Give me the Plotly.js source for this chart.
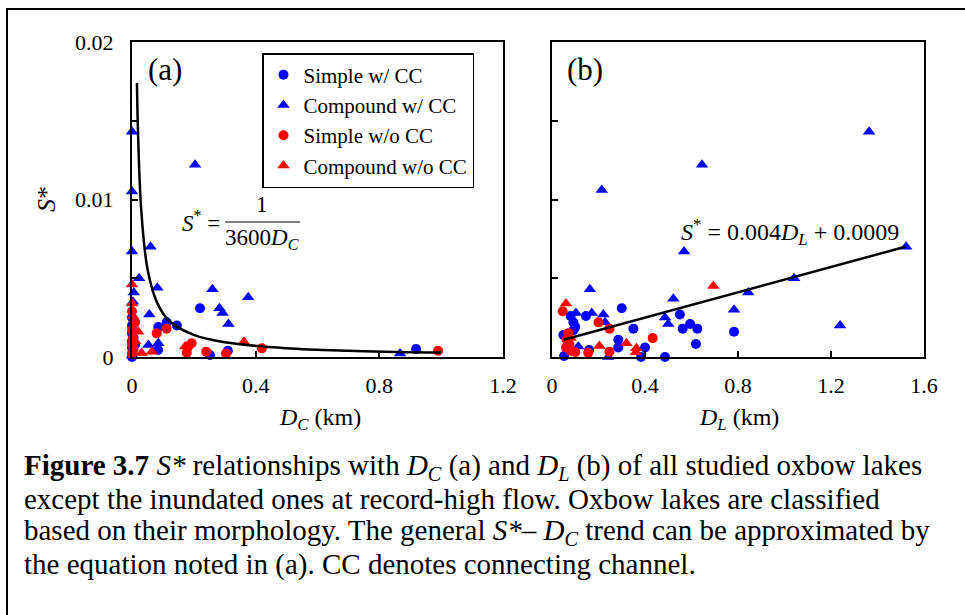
<!DOCTYPE html>
<html>
<head>
<meta charset="utf-8">
<script src="https://cdn.plot.ly/plotly-3.0.1.min.js"></script>
<style>html,body{margin:0;padding:0;background:#fff;}#chart{width:965px;height:615px;}</style>
</head>
<body>
<div id="chart"></div>
<script>
// ---------- Panel (a): S* vs D_C ----------
const aSimpleCC_x   = [0,0,0,0,0,0,0,0.005,0.01,0.22,0.145,0.085,0.112,0.084,0.252,0.31,0.919];
const aSimpleCC_y   = [0.0025,0.002,0.0015,0.001,0.0006,0.0002,0.0,0.0012,0.0008,0.0031,0.0020,0.0019,0.0022,0.00044,0.00013,0.0004,0.0005];
const aCompoundCC_x = [0,0.204,0,0,0.06,0.023,0.006,0.082,0.26,0.376,0.056,0.283,0.293,0.312,0.053,0.085,0.867,0.003,0.0];
const aCompoundCC_y = [0.0143,0.0122,0.0105,0.0067,0.0070,0.0050,0.0041,0.0044,0.0043,0.0038,0.0027,0.0031,0.0028,0.0021,0.00076,0.00087,0.00023,0.0035,0.0001];
const aSimpleNo_x   = [0,0.01,0.08,0.112,0.193,0.182,0.177,0.24,0.304,0.42,0.99,0.0,0.003,0.0,0.005,0.0];
const aSimpleNo_y   = [0.0029,0.0022,0.0015,0.0018,0.00087,0.00066,0.00027,0.00034,0.00023,0.00055,0.0004,0.0017,0.0012,0.0008,0.0005,0.0002];
const aCompoundNo_x = [0,0,0.02,0.031,0.064,0.362,0.172,0.003,0.01];
const aCompoundNo_y = [0.0046,0.0034,0.0016,0.00025,0.00034,0.00097,0.00066,0.0026,0.0010];
// trend curve (S* = 1/(3600 D_C))
const aCurve_x = [0.016,0.02,0.03,0.05,0.08,0.12,0.2,0.3,0.5,0.7,1.0];
const aCurve_y = [0.0174,0.0139,0.0093,0.0056,0.0035,0.0023,0.0014,0.00093,0.00056,0.0004,0.00028];

// ---------- Panel (b): S* vs D_L ----------
const bSimpleCC_x   = [0.30,0.55,0.594,0.562,0.625,0.783,0.619,0.35,0.486,0.40,0.383,0.285,0.285,0.16,0.08,0.146,0.092,0.092,0.049,0.052,0.10,0.07];
const bSimpleCC_y   = [0.0031,0.0027,0.0021,0.0018,0.0018,0.0016,0.00083,0.0018,0.0,0.0006,0.0,0.0011,0.0006,0.00044,0.0026,0.0026,0.0022,0.0017,0.0014,0.00006,0.0019,0.0008];
const bCompoundCC_x = [1.364,0.645,0.214,0.568,1.523,1.041,0.844,0.163,0.522,0.783,1.239,0.486,0.50,0.103,0.171,0.221,0.242,0.113,0.228];
const bCompoundCC_y = [0.0143,0.0122,0.0106,0.0067,0.0070,0.0050,0.0041,0.0043,0.0037,0.0030,0.0020,0.0025,0.0021,0.0028,0.0028,0.0027,0.0,0.00066,0.0022];
const bSimpleNo_x   = [0.046,0.20,0.247,0.433,0.247,0.156,0.07,0.063,0.06,0.08,0.10,0.075];
const bSimpleNo_y   = [0.0029,0.0022,0.0018,0.0012,0.00034,0.00027,0.0015,0.0011,0.0006,0.0004,0.0003,0.0008];
const bCompoundNo_x = [0.694,0.06,0.32,0.363,0.204,0.361,0.08];
const bCompoundNo_y = [0.0045,0.0034,0.00087,0.00055,0.0007,0.0003,0.0012];
// fitted line end points (S* = 0.004 D_L + 0.0009)
const bLine_x = [0.05,1.52];
const bLine_y = [0.0011,0.0070];

// ---------- tick labels ----------
const xTicksA = [0,0.4,0.8,1.2];
const xTickTextA = ['0','0.4','0.8','1.2'];
const xTicksB = [0,0.4,0.8,1.2,1.6];
const xTickTextB = ['0','0.4','0.8','1.2','1.6'];
const yTicks = [0,0.005,0.01,0.015,0.02];
const yTickTextA = ['0','','0.01','','0.02'];
const yTickTextB = ['','','','',''];

const seriesNames = ['Simple w/ CC','Compound w/ CC','Simple w/o CC','Compound w/o CC'];
const BLUE = '#0000FF', RED = '#FF0000';
const FONT = 'Liberation Serif, Times New Roman, serif';

function pts(x, y, name, color, symbol, xa, ya, show) {
  return {
    type: 'scatter', mode: 'markers', x: x, y: y, name: name,
    legendgroup: name, showlegend: show, xaxis: xa, yaxis: ya, cliponaxis: false,
    marker: {color: color, symbol: symbol, size: symbol === 'circle' ? 10 : 11, line: {width: 0}}
  };
}

const traces = [
  pts(aSimpleCC_x, aSimpleCC_y, seriesNames[0], BLUE, 'circle', 'x', 'y', true),
  pts(aCompoundCC_x, aCompoundCC_y, seriesNames[1], BLUE, 'triangle-up', 'x', 'y', true),
  pts(aSimpleNo_x, aSimpleNo_y, seriesNames[2], RED, 'circle', 'x', 'y', true),
  pts(aCompoundNo_x, aCompoundNo_y, seriesNames[3], RED, 'triangle-up', 'x', 'y', true),
  pts(bSimpleCC_x, bSimpleCC_y, seriesNames[0], BLUE, 'circle', 'x2', 'y2', false),
  pts(bCompoundCC_x, bCompoundCC_y, seriesNames[1], BLUE, 'triangle-up', 'x2', 'y2', false),
  pts(bSimpleNo_x, bSimpleNo_y, seriesNames[2], RED, 'circle', 'x2', 'y2', false),
  pts(bCompoundNo_x, bCompoundNo_y, seriesNames[3], RED, 'triangle-up', 'x2', 'y2', false),
  {type:'scatter', mode:'lines', x:aCurve_x, y:aCurve_y, xaxis:'x', yaxis:'y', showlegend:false,
   line:{color:'#000', width:2.5, shape:'spline', smoothing:1}, hoverinfo:'skip'},
  {type:'scatter', mode:'lines', x:bLine_x, y:bLine_y, xaxis:'x2', yaxis:'y2', showlegend:false,
   line:{color:'#000', width:2.5}, hoverinfo:'skip'}
];

const W = 965, H = 615;
const px = v => v / W;
const py = v => 1 - v / H;

function axisBase(standoff) {
  return {
    showline: true, mirror: true, linecolor: '#000', linewidth: 2,
    ticks: 'inside', ticklen: 6, tickwidth: 2, tickcolor: '#000',
    showgrid: false, zeroline: false, tickmode: 'array',
    tickfont: {family: FONT, size: 22, color: '#000'}, ticklabelstandoff: standoff
  };
}

function note(text, x, y, size, extra) {
  return Object.assign({
    text: text, x: px(x), y: py(y), xref: 'paper', yref: 'paper', showarrow: false,
    xanchor: 'center', yanchor: 'middle', font: {family: FONT, size: size, color: '#000'}
  }, extra || {});
}

const layout = {
  width: W, height: H,
  margin: {l: 0, r: 0, t: 0, b: 0},
  paper_bgcolor: '#fff', plot_bgcolor: '#fff',
  font: {family: FONT, color: '#000'},
  showlegend: true,
  xaxis: Object.assign(axisBase(8), {domain: [px(132), px(503)], range: [0, 1.2], tickvals: xTicksA, ticktext: xTickTextA, anchor: 'y'}),
  yaxis: Object.assign(axisBase(12), {domain: [py(357), py(42)], range: [0, 0.02], tickvals: yTicks, ticktext: yTickTextA, anchor: 'x'}),
  xaxis2: Object.assign(axisBase(8), {domain: [px(552), px(924)], range: [0, 1.6], tickvals: xTicksB, ticktext: xTickTextB, anchor: 'y2'}),
  yaxis2: Object.assign(axisBase(12), {domain: [py(357), py(42)], range: [0, 0.02], tickvals: yTicks, ticktext: yTickTextB, anchor: 'x2'}),
  legend: {
    x: px(262), y: py(53), xanchor: 'left', yanchor: 'top',
    bgcolor: '#fff', bordercolor: '#000', borderwidth: 1.5,
    font: {family: FONT, size: 21, color: '#000'},
    itemwidth: 30, tracegroupgap: 0
  },
  shapes: [
    {type: 'rect', xref: 'paper', yref: 'paper', x0: px(7), x1: 1.05, y0: -0.05, y1: py(9),
     line: {color: '#000', width: 2}, fillcolor: 'rgba(0,0,0,0)'},
    {type: 'line', xref: 'paper', yref: 'paper', x0: px(225), x1: px(300), y0: py(222), y1: py(222),
     line: {color: '#000', width: 1.2}}
  ],
  annotations: [
    note('(a)', 165, 70, 31),
    note('(b)', 585, 70, 31),
    note('<i>S</i>*', 47, 199, 26, {textangle: -90}),
    note('<i>D<sub>C</sub></i> (km)', 320, 419, 24),
    note('<i>D<sub>L</sub></i> (km)', 739, 419, 24),
    note('<i>S</i><sup>*</sup> =', 222, 221, 23, {xanchor: 'right'}),
    note('1', 262, 205, 23),
    note('3600<i>D<sub>C</sub></i>', 262, 239, 23),
    note('<i>S</i><sup>*</sup> = 0.004<i>D<sub>L</sub></i> + 0.0009', 790, 232, 24),
    note('<b>Figure 3.7</b> <i>S*</i> relationships with <i>D<sub>C</sub></i> (a) and <i>D<sub>L</sub></i> (b) of all studied oxbow lakes', 22, 467, 29, {xanchor: 'left'}),
    note('except the inundated ones at record-high flow. Oxbow lakes are classified', 22, 499, 29, {xanchor: 'left'}),
    note('based on their morphology. The general <i>S*</i>– <i>D<sub>C</sub></i> trend can be approximated by', 22, 532, 29, {xanchor: 'left'}),
    note('the equation noted in (a). CC denotes connecting channel.', 22, 564, 29, {xanchor: 'left'})
  ]
};

Plotly.newPlot('chart', traces, layout, {displayModeBar: false, staticPlot: true});
</script>
</body>
</html>
